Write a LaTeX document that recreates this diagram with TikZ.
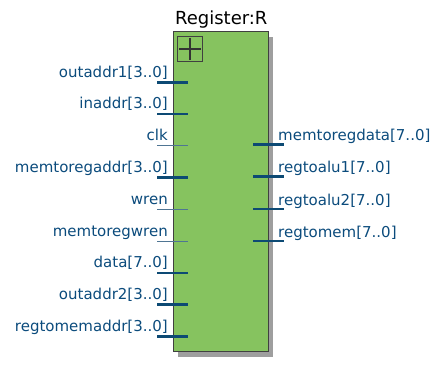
\documentclass[tikz,border=0pt]{standalone}
\usepackage{fontspec}
\setmainfont{DejaVu Sans}
\usetikzlibrary{shadows}
\definecolor{regfill}{HTML}{86C35F}
\definecolor{pinblue}{HTML}{0D4A74}
\definecolor{wireblue}{HTML}{4F7593}
\definecolor{labblue}{HTML}{0B4B7C}
\begin{document}
\begin{tikzpicture}[x=1pt, y=-1pt,
    lab/.style={font=\fontsize{15}{15}\selectfont, text=labblue, inner sep=0pt},
    bus/.style={draw=pinblue, line width=2.6pt},
    wire/.style={draw=wireblue, line width=1.2pt}]
    \useasboundingbox (0,0) rectangle (443,366);

    % --- block ---
    \node[draw=black!75, line width=0.8pt, fill=regfill, minimum width=95pt, minimum height=320pt, inner sep=0pt,
          drop shadow={shadow xshift=5pt, shadow yshift=-5pt, fill=black!38, opacity=1}] (reg) at (220.8,191.7) {};
    \node[anchor=base, inner sep=0pt, font=\fontsize{18}{18}\selectfont] (title) at (221.3,25) {Register:R};
    \node[draw=black!75, line width=0.8pt, minimum size=25pt, inner sep=0pt, anchor=north west] (icon) at (177,36) {};
    \draw[black!80, line width=1.6pt] ([yshift=-2]icon.north) -- ([yshift=2]icon.south);
    \draw[black!80, line width=1.6pt] ([xshift=2]icon.west) -- ([xshift=-2]icon.east);

    % --- inputs ---
    \coordinate (p1) at (157,82.3);
    \coordinate (p2) at (157,114);
    \coordinate (p3) at (157,145.8);
    \coordinate (p4) at (157,177.5);
    \coordinate (p5) at (157,209.3);
    \coordinate (p6) at (157,241.1);
    \coordinate (p7) at (157,272.8);
    \coordinate (p8) at (157,304.5);
    \coordinate (p9) at (157,336.3);
    \draw[bus] (p1) -- ++(31,0);
    \draw[bus] (p2) -- ++(31,0);
    \draw[wire] (p3) -- ++(31,0);
    \draw[bus] (p4) -- ++(31,0);
    \draw[wire] (p5) -- ++(31,0);
    \draw[wire] (p6) -- ++(31,0);
    \draw[bus] (p7) -- ++(31,0);
    \draw[bus] (p8) -- ++(31,0);
    \draw[bus] (p9) -- ++(31,0);
    \node[lab, anchor=base east] (l1) at ([xshift=11,yshift=5]p1) {outaddr1[3..0]};
    \node[lab, anchor=base east] (l2) at ([xshift=11,yshift=5]p2) {inaddr[3..0]};
    \node[lab, anchor=base east] (l3) at ([xshift=11,yshift=5]p3) {clk};
    \node[lab, anchor=base east] (l4) at ([xshift=11,yshift=5]p4) {memtoregaddr[3..0]};
    \node[lab, anchor=base east] (l5) at ([xshift=11,yshift=5]p5) {wren};
    \node[lab, anchor=base east] (l6) at ([xshift=11,yshift=5]p6) {memtoregwren};
    \node[lab, anchor=base east] (l7) at ([xshift=11,yshift=5]p7) {data[7..0]};
    \node[lab, anchor=base east] (l8) at ([xshift=11,yshift=5]p8) {outaddr2[3..0]};
    \node[lab, anchor=base east] (l9) at ([xshift=11,yshift=5]p9) {regtomemaddr[3..0]};

    % --- outputs ---
    \coordinate (q1) at (253,144.5);
    \coordinate (q2) at (253,176.7);
    \coordinate (q3) at (253,209);
    \coordinate (q4) at (253,241);
    \draw[bus] (q1) -- ++(31,0);
    \draw[bus] (q2) -- ++(31,0);
    \draw[bus] (q3) -- ++(31,0);
    \draw[bus] (q4) -- ++(31,0);
    \node[lab, anchor=base west] (r1) at ([xshift=25,yshift=4]q1) {memtoregdata[7..0]};
    \node[lab, anchor=base west] (r2) at ([xshift=25,yshift=4]q2) {regtoalu1[7..0]};
    \node[lab, anchor=base west] (r3) at ([xshift=25,yshift=4]q3) {regtoalu2[7..0]};
    \node[lab, anchor=base west] (r4) at ([xshift=25,yshift=4]q4) {regtomem[7..0]};
\end{tikzpicture}
\end{document}
